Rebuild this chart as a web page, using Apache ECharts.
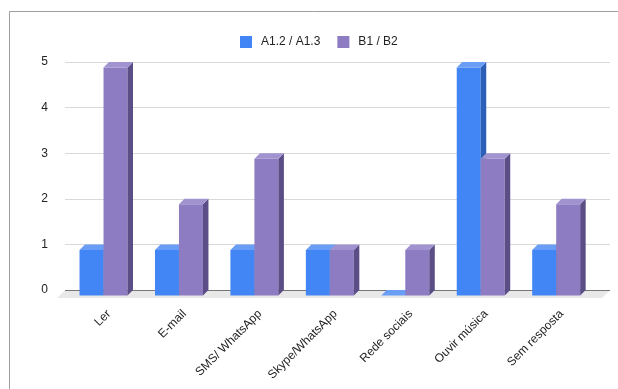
<!DOCTYPE html>
<html>
<head>
<meta charset="utf-8">
<script src="https://cdn.jsdelivr.net/npm/echarts@6/dist/echarts.min.js"></script>
<style>
  html, body { margin: 0; padding: 0; background: #fff; }
  #chart { width: 618px; height: 389px; }
</style>
</head>
<body>
<div id="chart"></div>
<script>
const categories = ['Ler', 'E-mail', 'SMS/ WhatsApp', 'Skype/WhatsApp', 'Rede sociais', 'Ouvir música', 'Sem resposta'];
const seriesNames = ['A1.2 / A1.3', 'B1 / B2'];
const valuesA = [1, 1, 1, 1, 0, 5, 1];
const valuesB = [5, 2, 3, 1, 1, 3, 2];
const yTicks = [0, 1, 2, 3, 4, 5];

// front / top / side colours per series
const faces = [
  { front: '#4285f4', top: '#6a9df6', side: '#2c5fb8' },
  { front: '#8e7cc3', top: '#a193d0', side: '#5b4d86' }
];
const DEPTH = 5.5;

function makeRender(s) {
  return function (params, api) {
    const cat = api.value(0);
    const v = api.value(1);
    const top = api.coord([cat, v]);
    const base = api.coord([cat, 0]);
    const band = api.size([1, 0])[0];
    const w = band * 0.318;
    const fx0 = top[0] - DEPTH + (s === 0 ? -w : 0);
    const fx1 = fx0 + w;
    const ty = top[1] + DEPTH;
    const by = base[1] + DEPTH;
    const c = faces[s];
    return {
      type: 'group',
      children: [
        { type: 'rect', shape: { x: fx0, y: ty, width: w, height: by - ty }, style: { fill: c.front } },
        { type: 'polygon', shape: { points: [[fx1, ty], [fx1 + DEPTH, ty - DEPTH], [fx1 + DEPTH, by - DEPTH], [fx1, by]] }, style: { fill: c.side } },
        { type: 'polygon', shape: { points: [[fx0, ty], [fx1, ty], [fx1 + DEPTH, ty - DEPTH], [fx0 + DEPTH, ty - DEPTH]] }, style: { fill: c.top } }
      ]
    };
  };
}

const chart = echarts.init(document.getElementById('chart'));
const font = 'Liberation Sans, Arial, sans-serif';

chart.setOption({
  animation: false,
  legend: {
    top: 31,
    left: 235,
    itemWidth: 12,
    itemHeight: 12,
    itemGap: 17,
    icon: 'rect',
    textStyle: { fontFamily: font, fontSize: 12, color: '#222', padding: [0, 0, 0, 4] },
    data: seriesNames
  },
  grid: [
    { left: 65, right: 8, top: 62, bottom: 99, outerBoundsMode: 'none' },
    { left: 71.3, right: 18.6, top: 62, bottom: 99, outerBoundsMode: 'none' }
  ],
  xAxis: [
    { gridIndex: 0, type: 'category', data: categories, show: false },
    {
      gridIndex: 1, type: 'category', data: categories,
      axisLine: { show: false }, axisTick: { show: false },
      axisLabel: { interval: 0, rotate: 45, margin: 22, fontFamily: font, fontSize: 12, color: '#222' }
    }
  ],
  yAxis: [
    {
      gridIndex: 0, type: 'value', min: yTicks[0], max: yTicks[yTicks.length - 1], interval: 1,
      axisLine: { show: false }, axisTick: { show: false },
      axisLabel: { margin: 17, fontFamily: font, fontSize: 12, color: '#222' },
      splitLine: { lineStyle: { color: ['#777', '#d9d9d9', '#d9d9d9', '#d9d9d9', '#d9d9d9', '#d9d9d9'], width: 1 } }
    },
    { gridIndex: 1, type: 'value', min: 0, max: 5, show: false, splitLine: { show: false } }
  ],
  graphic: [
    { type: 'polygon', z: 0, shape: { points: [[65, 290.5], [610, 290.5], [602, 298], [57, 298]] }, style: { fill: '#e8e8e8' } },
    { type: 'polyline', z: 0, shape: { points: [[9.5, 389], [9.5, 11.5], [618, 11.5]] }, style: { stroke: '#9e9e9e', lineWidth: 1, fill: null } }
  ],
  series: [
    {
      name: seriesNames[0], type: 'custom', xAxisIndex: 1, yAxisIndex: 1, z: 5,
      itemStyle: { color: faces[0].front },
      renderItem: makeRender(0),
      encode: { x: 0, y: 1 },
      data: valuesA.map((v, i) => [i, v])
    },
    {
      name: seriesNames[1], type: 'custom', xAxisIndex: 1, yAxisIndex: 1, z: 5,
      itemStyle: { color: faces[1].front },
      renderItem: makeRender(1),
      encode: { x: 0, y: 1 },
      data: valuesB.map((v, i) => [i, v])
    }
  ]
});
</script>
</body>
</html>
